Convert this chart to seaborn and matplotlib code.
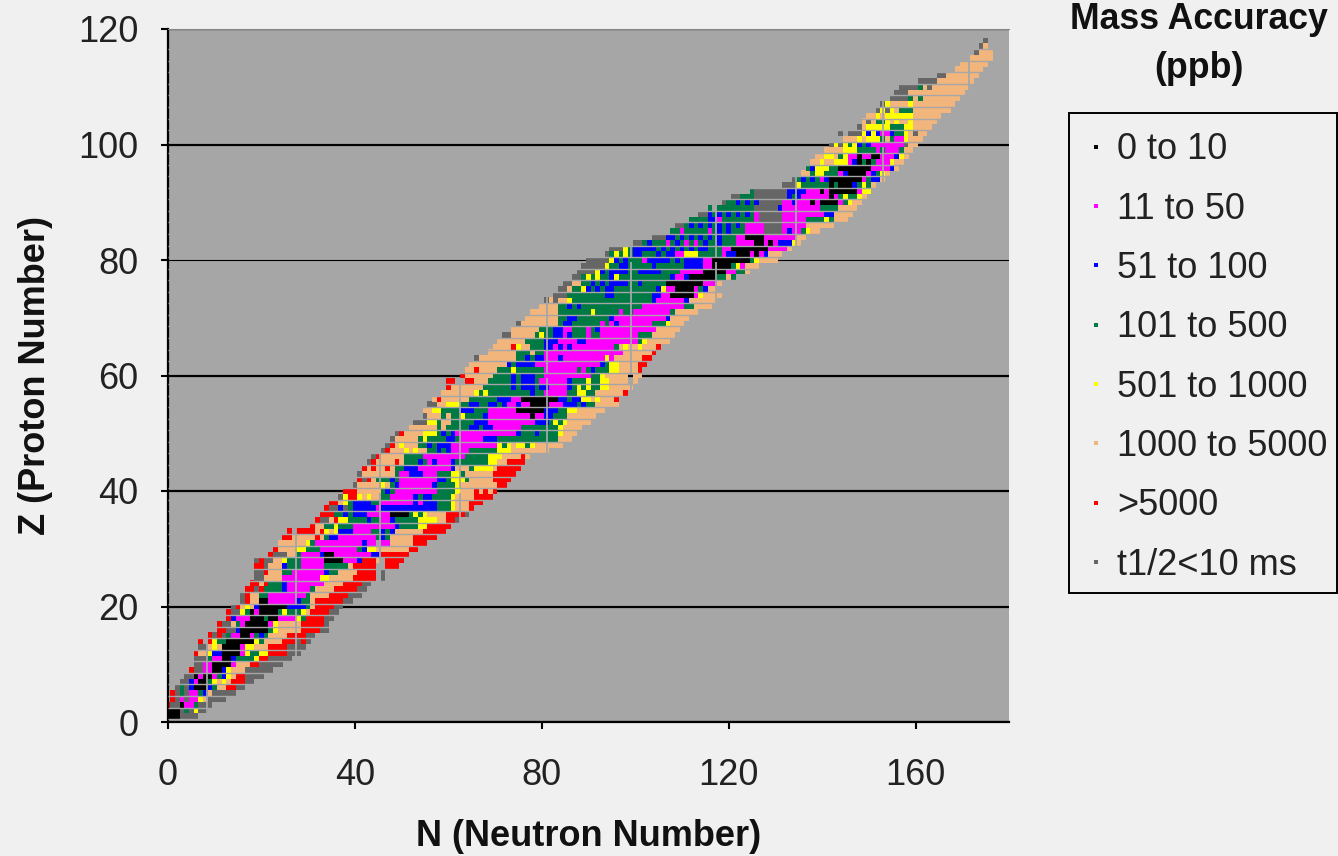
import numpy as np
import pandas as pd
import matplotlib
matplotlib.use('Agg')
import matplotlib.pyplot as plt
from matplotlib.path import Path
from matplotlib.markers import MarkerStyle
from matplotlib.lines import Line2D
from matplotlib.patches import Rectangle
import seaborn as sns

# accuracy classes, keyed by the letters used in the rows below
cat_keys = ['k', 'm', 'b', 'd', 'y', 'p', 'r', 'g']
cat_labels = ['0 to 10', '11 to 50', '51 to 100', '101 to 500', '501 to 1000',
              '1000 to 5000', '>5000', 't1/2<10 ms']
cat_colors = ['#000000', '#ff00ff', '#0000ff', '#007a45', '#ffff00', '#f2b67c', '#ff0000', '#666666']

y_ticks = [0, 20, 40, 60, 80, 100, 120]
x_ticks = [0, 40, 80, 120, 160]

# first N of each row, Z = 1, 2, 3 ...
row_start = [0, 0, 0, 1, 1, 2, 3, 4, 5, 6,
             6, 6, 7, 7, 9, 11, 11, 13, 13, 14,
             16, 16, 17, 18, 19, 19, 19, 19, 22, 23,
             24, 25, 26, 31, 32, 33, 34, 35, 37, 38,
             40, 41, 41, 42, 43, 44, 46, 47, 48, 49,
             52, 53, 55, 55, 56, 57, 59, 60, 60, 63,
             64, 65, 66, 69, 70, 71, 72, 74, 75, 77,
             78, 80, 81, 83, 84, 85, 87, 88, 89, 90,
             94, 95, 100, 104, 108, 109, 112, 114, 116, 119,
             121, 125, 132, 134, 136, 137, 138, 139, 141, 142,
             145, 144, 148, 149, 150, 152, 153, 155, 156, 157,
             161, 165, 169, 170, 172, 173, 174, 175]

# class runs along each row (letter + count, _ = nothing measured)
row_runs = [
    "k3 g4", "k3 g1 d1 g1 y1 g2", "r1 g2 k1 m2 d1 g2 g1", "r1 g1 m1 g1 m2 y1 p1 g4",
    "r1 g1 d1 g1 m2 d1 b1 p1 g5", "g1 d1 g1 b1 k3 b1 d1 p2 r2 g2",
    "g2 b1 m1 k2 d1 y1 p1 y1 p1 r3 g2", "g2 k1 m1 k1 k1 m1 d1 b1 y1 p1 r2 g4",
    "r1 g2 m1 m1 k2 b1 y1 p3 g6", "g2 m1 m1 k4 m1 p3 r2 g5",
    "g3 d1 m2 k2 b1 d4 y1 r2 g5", "r1 p2 y1 b2 k4 m1 y1 d2 y2 r4 g3",
    "g2 p1 y1 p1 k4 m1 y2 p3 r4 g4", "r1 _1 r1 y1 d2 k6 y1 d1 p4 r3 g1 r1 g1",
    "r1 g1 r1 g1 d1 m2 k2 m1 d1 b1 d1 p4 r4 g2", "r2 g2 b1 k6 d1 y1 p5 r4 g2",
    "r1 g2 p1 d1 m1 k5 m1 y1 p4 p1 r5 g1", "r1 b1 m3 k3 d1 k2 m4 y1 d1 r4 g2",
    "r1 g2 y1 d1 k1 m1 k4 d1 y1 d2 d1 y1 p1 r4 g2", "g1 r1 p1 y1 p1 b1 k6 b2 b2 d1 p1 r4 g2",
    "g1 r1 p2 k2 m6 b1 d2 p1 r6 g2", "g1 r1 p2 d2 m6 m2 d1 p4 r4 g3",
    "r2 g1 r1 d4 b1 m5 d1 p4 r5 g2", "r2 p1 r1 d3 b1 m2 m6 p4 r4 g2",
    "g2 p4 m3 m5 y2 p5 r5 _1 g1", "g2 r1 p3 d2 m1 m6 b1 d2 p4 r4 _1 g1",
    "r2 g1 p3 b1 d2 d1 m5 d5 p1 r5 _2 r3", "g1 r1 g2 p2 y1 d2 d1 m5 k4 m3 b1 r3 p1 _1 r4",
    "r1 g3 p2 d1 m4 b1 k2 m8 b2 r6", "r1 p4 y2 d3 m8 d1 b1 y2 p7 r2",
    "p6 y1 d1 m10 b1 m2 _1 m2 p5 r3", "r2 p5 r1 p1 d1 b2 m8 d1 b1 d1 p5 r5",
    "r1 _1 r4 p1 r1 y1 p1 y1 b3 m4 d2 b1 d1 b1 p6 r5", "r1 p2 d2 y1 d3 m6 m3 b1 d4 y2 r5",
    "r1 g2 p1 r1 y2 d4 b1 d2 m2 b1 d5 y4 p2 r2 g1", "r3 d2 b1 d1 b3 m3 m2 k4 d1 y1 d1 y1 p4 r4 g1",
    "r1 g2 b1 g1 d1 b5 m1 b12 d3 y1 p3 r1", "r2 p1 y1 d1 b4 d2 m7 b1 m1 b3 d3 y1 p3 r3",
    "g1 y1 r2 y1 p1 y1 p2 d2 m5 b1 d1 b2 d4 y1 p4 r4", "r3 p5 d1 b1 d1 m9 d4 y1 p3 r1 p1 r1 p1 r1",
    "g1 p5 y1 p1 d1 b1 m7 b1 d4 y1 p8 r2", "r1 g1 r1 p1 d3 b1 d1 m8 b2 d1 y3 d1 p5 r4",
    "g1 p7 d1 m2 b3 m3 d3 y2 d1 p6 r5", "r1 p1 r1 p2 r1 p1 d2 b3 m7 b1 p3 d1 y4 p1 r5",
    "g1 r1 p4 r1 p1 d3 b1 d1 m1 b1 m3 b1 d7 y2 p2 r4", "g1 r1 p5 d4 m9 d5 y3 p4 r1 p1",
    "g1 r1 p3 y1 p1 y1 p2 d2 b1 d1 b1 m4 d6 y3 p8", "g1 r1 p1 y1 p3 d2 b1 d1 b3 m10 y1 d1 y1 p1 y2 d1 y1 p6",
    "g1 p5 d1 y1 d4 b2 d1 m5 b3 d13 p3", "g1 r1 p4 y3 d1 b1 d1 b1 m13 b1 d3 b1 d4 y1 p3",
    "p6 d1 p1 d5 b2 d1 b2 m6 d8 y1 p4", "g3 y2 d1 p2 d5 b3 m10 b3 d1 y1 d1 y1 p5",
    "g1 p3 d1 p1 d2 y1 d4 b1 m9 k1 m2 b2 d3 p6", "p2 y2 d4 b3 d3 m6 k6 b3 d2 y2 p6",
    "g2 p2 y3 d2 b2 d2 b2 d1 b1 m2 b1 m2 k4 m3 b3 d1 b1 d2 p5",
    "p1 r1 p6 d5 d1 b3 m2 k8 b2 d1 b2 y2 p1 y1 p3 r1",
    "p7 y1 d1 y1 d9 b1 d2 m5 d2 y2 d2 p6 r1", "r1 p7 d6 b1 d1 b3 d1 b2 m4 b1 d1 y1 d1 y1 d2 y2 p5",
    "r2 _2 r2 p3 d5 b1 d1 b3 d1 m6 b1 d3 y1 d2 y2 p4 _1 p1", "r1 p6 d4 b1 d1 b3 d2 m10 d2 y1 p5 _1 p2",
    "p2 r1 p4 d3 y1 d6 m7 d1 m1 d1 b1 d3 y2 p4 r1", "p8 b1 d1 b4 m14 b1 d1 y2 p4 r2",
    "g1 p8 d2 b1 d1 b2 m3 b1 m9 y1 m1 p6 r2", "p6 d3 p1 d2 m17 p6 r1",
    "p4 r1 y1 p2 d3 b2 m1 b1 m1 b1 m9 d1 p1 y1 p2 y1 p3 r1", "p6 d4 b3 m4 b2 m11 d1 y1 p5",
    "g2 p5 d1 y1 d2 b2 m1 b1 d3 m1 d2 m8 d3 p5", "p6 d1 d2 b2 m2 d3 m1 d1 b1 m12 p5",
    "g1 p8 d1 b2 d6 m1 d1 m1 b1 m7 d3 y1 p3", "p7 d2 b2 d7 b1 m11 b1 p4",
    "p6 d7 y1 d5 m1 d2 m8 d1 p5", "p4 d2 b1 d1 b1 d13 m9 d2 p4",
    "g1 p1 g1 p2 y1 d17 b1 m6 b1 p6", "g3 d8 b2 d8 b2 m2 k5 m1 y1 p4",
    "g2 p1 d2 y1 b1 d1 b1 d1 b2 d9 b1 y1 m2 k4 m1 d1 b1 p2", "g2 p2 d2 b1 d1 b1 d1 b4 d2 b1 d5 k8 m3 p1",
    "g2 d1 y1 d1 y1 d2 b1 y1 d11 b1 m2 b1 k6 d2 p1 d1", "g4 y1 b1 d1 b4 d2 b5 d4 m5 k5 m2 d2 p1",
    "g5 y1 d2 b2 d5 b1 d6 b4 m2 k4 d1 y1 m1 p3", "g5 y1 b1 d1 b1 d3 m1 b5 d1 b1 d1 b4 m2 k8 d1 y1 p4",
    "g1 d1 y1 d1 y1 d1 b2 d3 b1 d1 b2 m2 y3 d5 m1 b2 k3 m1 k1 m1 b1 p3",
    "g3 y1 d1 b5 d1 b1 d1 b1 d1 b1 d1 b1 d1 b2 d3 m2 k8 m4 p1",
    "g2 d1 b1 d3 m1 d1 b1 d1 m1 d1 m1 d1 b1 d2 b1 d3 m4 k2 m1 k1 m1 b3 y1 p1",
    "g3 b2 d1 b1 d1 b1 d1 b1 d1 b1 d1 b1 d3 m2 k4 m7 p2",
    "d2 m1 d5 m1 d1 b1 d1 b1 d3 m4 g4 m1 b1 m2 d1 y1 p2",
    "g2 d1 b1 d1 b1 d1 b1 d1 b1 d1 b1 d1 b1 d1 m4 g4 m5 p6",
    "d4 b2 m1 d7 m1 g5 m5 d4 y1 d1 p3", "g2 b1 d1 b1 d1 b1 d1 b1 d1 b1 d1 m1 g5 m9 b2 p4",
    "d1 _1 d8 g5 b1 m8 d4 p4", "g1 d2 b1 d1 b1 d1 b1 g5 m2 b1 m3 k1 m1 k4 m1 d1 y1 p2",
    "g2 d3 g7 b1 d1 b1 m6 k1 m1 d1 y1 d2 y1 p1", "d1 g7 b4 m3 k1 m1 k6 m1 y2",
    "g3 y1 d6 k1 d1 k3 b1 d1 y1 d1 p1", "g1 d1 b1 d1 b1 d1 m1 b1 k7 m1 d1 b2 p1",
    "p2 d1 y2 d3 m1 b1 k4 m1 b1 d1 y1 p1", "d1 b1 y3 d2 k7 m3 m1 b1 p1",
    "p2 y1 p2 y3 m1 b1 k1 d1 k1 d1 m3 y1 p2", "p2 y2 p1 d1 y1 m2 k1 m2 k2 m3 b1 y1 p1",
    "p4 y3 d4 m1 d1 m3 d1 p2", "g1 y1 g1 y1 d1 y1 b1 d1 b1 m7 g1 p2",
    "p3 y1 p1 y3 d1 p1 d1 m2 y1 p3", "g1 _1 g3 y1 b1 y1 b1 m2 b1 d2 y1 p1 g1 p2",
    "g1 p1 y5 d3 y2 p4", "p1 g1 p1 d2 y1 p1 y1 p2 y1 p5",
    "p2 y1 p1 y6 p6", "g1 y1 g1 y1 p1 d3 p8",
    "g1 y1 p4 y1 p9", "g4 d1 p1 d1 p8",
    "g3 p12", "g4 d1 p1 g1 p8",
    "g4 p8", "g2 p7", "p6", "p6", "p5", "g1 p3", "g1 p1", "g1",
]

records = []
for z, (n, runs) in enumerate(zip(row_start, row_runs), start=1):
    for run in runs.split():
        key, count = run[0], int(run[1:])
        if key != '_':
            for i in range(count):
                records.append((n + i, z, cat_labels[cat_keys.index(key)]))
        n += count
df = pd.DataFrame(records, columns=['N', 'Z', 'accuracy'])

sns.set_theme(style='white')
plt.rcParams['font.family'] = ['Liberation Sans', 'DejaVu Sans']

bg = '#f0f0f0'
plot_bg = '#a6a6a6'
fig = plt.figure(figsize=(13.38, 8.56), dpi=100, facecolor=bg)
ax = fig.add_axes([168 / 1338, 1 - 722 / 856, 841 / 1338, 693 / 856], facecolor=plot_bg)

# one cell is wider in data units than it is tall on screen
cell = MarkerStyle(Path([(-0.405, -0.5), (0.405, -0.5), (0.405, 0.5), (-0.405, 0.5), (-0.405, -0.5)]))
sns.scatterplot(data=df, x='N', y='Z', hue='accuracy', hue_order=cat_labels,
                palette=dict(zip(cat_labels, cat_colors)), marker=cell, s=18,
                linewidth=0, edgecolor='none', legend=False, ax=ax, zorder=2)

ax.set_xlim(0, 180)
ax.set_ylim(0, 120)
ax.set_xticks(x_ticks)
ax.set_yticks(y_ticks)
ax.set_axisbelow(True)
ax.grid(axis='y', color='black', lw=1.6)
ax.grid(axis='x', visible=False)
ax.yaxis.get_gridlines()[4].set_linewidth(0.8)

# the source image was shrunk, which left thin background seams through the cells
for low in range(0, 120, 20):
    ax.vlines([8.3, 27.5, 45.3, 62.5, 81.2, 99.2, 117.3, 134.5, 153, 171.5],
              low + 0.4, low + 19.6, color=plot_bg, lw=1.3, zorder=3)
ax.hlines(np.arange(0.5, 118, 2), 0, 180, color=plot_bg, lw=1.0, zorder=3)

ax.spines['right'].set_visible(False)
ax.spines['top'].set_color('#888888')
ax.spines['top'].set_linewidth(0.8)
for side in ['left', 'bottom']:
    ax.spines[side].set_color('black')
    ax.spines[side].set_linewidth(1.6)
ax.tick_params(axis='x', length=5, width=1.5, color='black', labelsize=26, pad=21, labelcolor='#222222', bottom=True)
ax.tick_params(axis='y', length=5, width=1.5, color='black', labelsize=26, pad=16.5, labelcolor='#222222', left=True)

ax.set_xlabel('N (Neutron Number)', fontsize=26, fontweight='bold', color='#111111')
ax.set_ylabel('Z (Proton Number)', fontsize=26, fontweight='bold', color='#111111')
ax.xaxis.set_label_coords(0.5, -(836 - 722) / 693)
ax.yaxis.set_label_coords(-(168 - 36) / 841, 0.5)
ax.xaxis.label.set_verticalalignment('center')
ax.yaxis.label.set_verticalalignment('center')

fig.text(1199 / 1338, 1 - 44 / 856, 'Mass Accuracy\n(ppb)', ha='center', va='center',
         fontsize=25.7, fontweight='bold', color='#111111', linespacing=1.5)

# frame drawn apart from the legend so its height can follow the picture
fig.add_artist(Rectangle((1069 / 1338, 1 - 593 / 856), 268 / 1338, 480 / 856, transform=fig.transFigure,
                         facecolor=bg, edgecolor='black', lw=1.4, zorder=-1))
handles = [Line2D([], [], ls='none', marker='s', ms=3, mew=0, color=c) for c in cat_colors]
leg = ax.legend(handles, cat_labels, loc='upper left', bbox_to_anchor=(1070 / 1338, 1 - 117 / 856),
                bbox_transform=fig.transFigure, fontsize=26, frameon=False, borderaxespad=0, borderpad=0.42,
                labelspacing=0.674, handlelength=0.6, handletextpad=0.29, labelcolor='#222222')

fig.savefig('out.png', dpi=100, facecolor=bg)
